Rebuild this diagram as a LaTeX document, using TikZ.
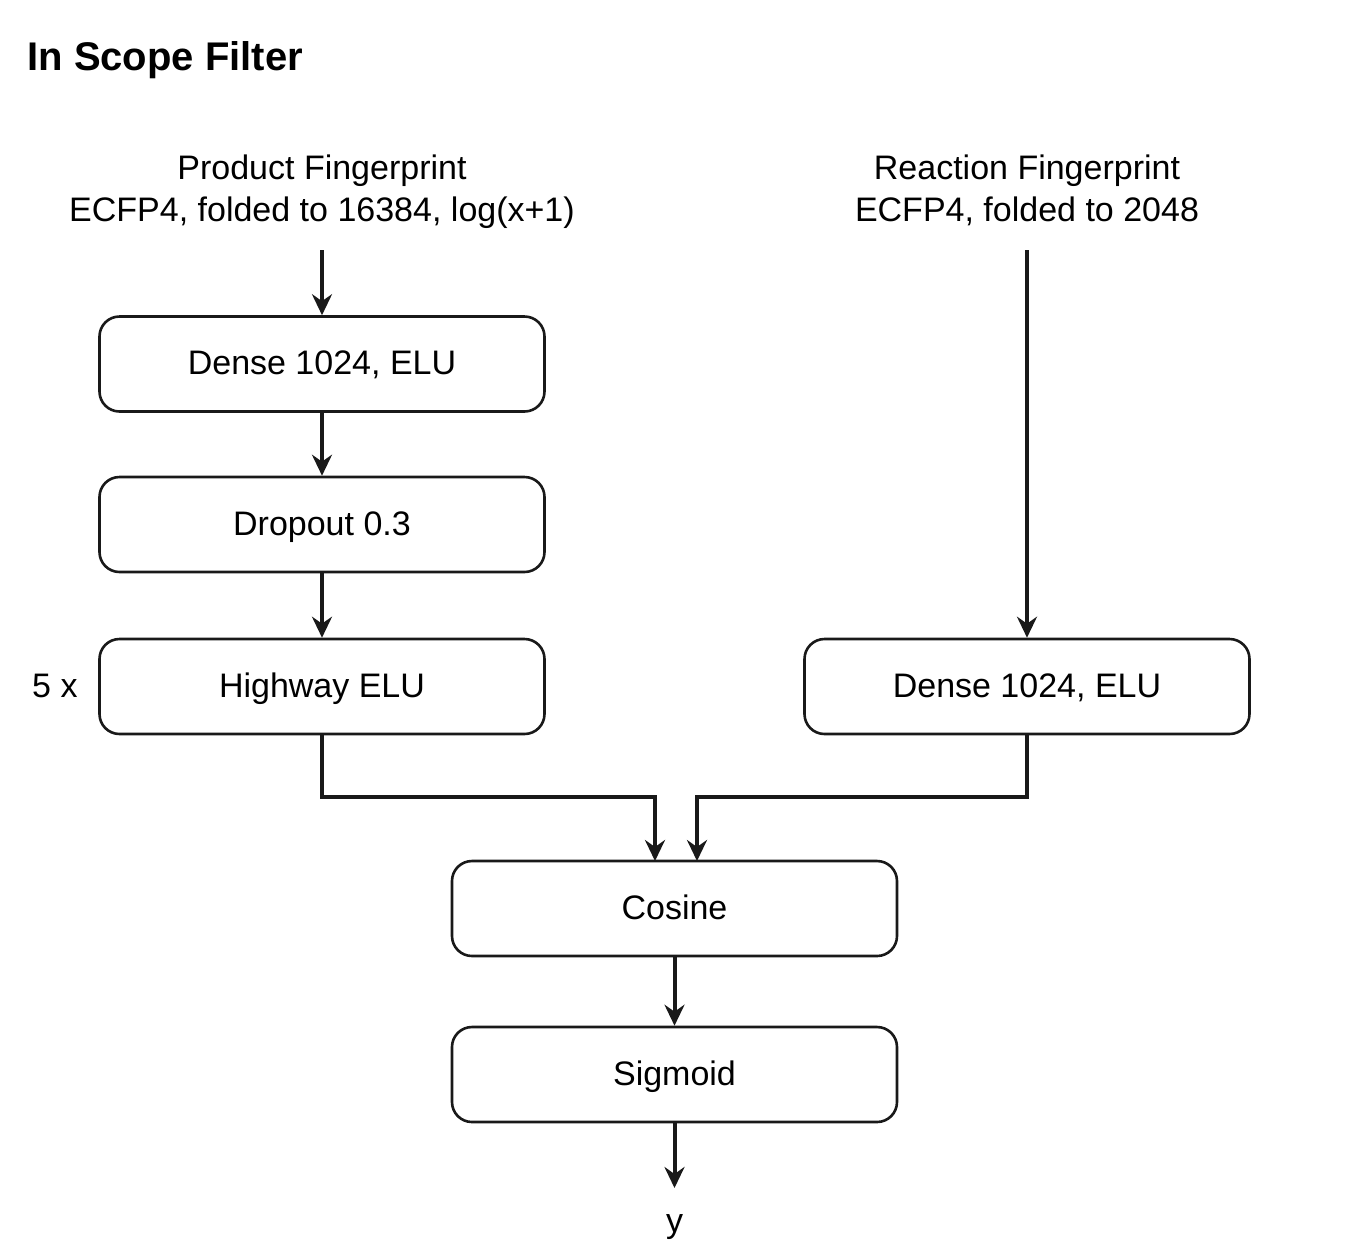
\documentclass[tikz,border=0pt]{standalone}
\usepackage{fontspec}
\setmainfont{Liberation Sans}
\usetikzlibrary{arrows.meta}
\tikzset{
  layer/.style={draw=black!90, line width=1.3pt, rounded corners=10pt, minimum width=222.5pt, minimum height=47.5pt, font=\fontsize{17}{21}\selectfont, inner sep=0pt, text height=13pt, text depth=2.5pt},
  conn/.style={line width=2pt, black!90, -{Stealth[length=10.5pt,width=10pt,inset=3.5pt]}},
  lbl/.style={font=\fontsize{17}{21}\selectfont, align=center, inner sep=0pt}
}
\begin{document}
\begin{tikzpicture}[x=0.5pt,y=-0.5pt]
\useasboundingbox (0,0) rectangle (1345,1250);
\node[anchor=base west, font=\bfseries\fontsize{20}{24}\selectfont, inner sep=0pt] (title) at (27,70) {In Scope Filter};
\node[lbl, anchor=base] (pf) at (322,221) {Product Fingerprint\\ECFP4, folded to 16384, log(x+1)};
\node[lbl, anchor=base] (rf) at (1027,221) {Reaction Fingerprint\\ECFP4, folded to 2048};
\coordinate (pfe) at (322,250);
\coordinate (rfe) at (1027,250);
\node[layer] (d1) at (322,364) {Dense 1024, ELU};
\node[layer] (dr) at (322,524.5) {Dropout 0.3};
\node[layer] (hw) at (322,686.5) {Highway ELU};
\node[lbl, anchor=east, text height=13pt, text depth=2.5pt] (five) at (78,686.5) {5 x};
\node[layer] (d2) at (1027,686.5) {Dense 1024, ELU};
\node[layer] (cos) at (674.5,908.5) {Cosine};
\node[layer] (sig) at (674.5,1074.5) {Sigmoid};
\node[lbl, anchor=base] (y) at (674.5,1232) {y};
\coordinate (ye) at (674.5,1188);
\coordinate (cl) at (655,861);
\coordinate (cr) at (697,861);
\draw[conn] (pfe) -- (d1.north);
\draw[conn] (d1.south) -- (dr.north);
\draw[conn] (dr.south) -- (hw.north);
\draw[conn] (rfe) -- (d2.north);
\draw[conn] (hw.south) |- (655,797) -- (cl);
\draw[conn] (d2.south) |- (697,797) -- (cr);
\draw[conn] (cos.south) -- (sig.north);
\draw[conn] (sig.south) -- (ye);
\end{tikzpicture}
\end{document}
